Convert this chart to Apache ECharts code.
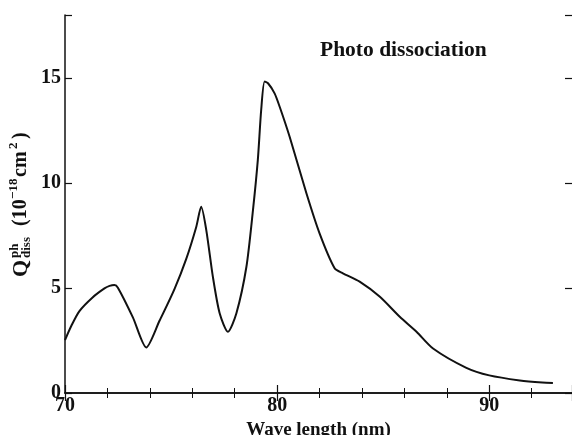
<!DOCTYPE html>
<html>
<head>
<meta charset="utf-8">
<script src="https://cdn.jsdelivr.net/npm/echarts@6/dist/echarts.min.js"></script>
<style>
  html, body { margin: 0; padding: 0; background: #fff; }
  #chart { width: 572px; height: 435px; }
</style>
</head>
<body>
<div id="chart"></div>
<script>
// Photodissociation cross section versus wavelength
const wavelength = [
  70.0, 70.3, 70.68, 71.3, 71.86, 72.1, 72.33, 72.5, 73.2, 73.83,
  74.46, 75.16, 75.72, 76.19, 76.42, 76.66, 76.97, 77.29, 77.68, 78.08,
  78.55, 78.86, 79.09, 79.25, 79.41, 79.57, 79.88, 80.12, 80.59, 81.38,
  82.0, 82.71, 83.1, 83.89, 84.83, 85.78, 86.57, 87.35, 88.92, 90.0,
  91.44, 92.5, 93.0
];
const crossSection = [
  2.52, 3.2, 3.9, 4.55, 4.98, 5.1, 5.14, 5.0, 3.6, 2.17,
  3.45, 4.95, 6.4, 7.92, 8.87, 7.76, 5.54, 3.8, 2.92, 3.8,
  6.0, 8.7, 11.1, 13.5, 14.83, 14.75, 14.27, 13.63, 12.2, 9.51,
  7.6, 5.94, 5.7, 5.3, 4.59, 3.63, 2.92, 2.12, 1.2, 0.84,
  0.6, 0.5, 0.48
];
const xTickLabels = [70, 80, 90];
const yTickLabels = [0, 5, 10, 15];

const serif = '"Liberation Serif", "DejaVu Serif", serif';
const ink = '#111';

const chart = echarts.init(document.getElementById('chart'));

const labelFont = { fontFamily: serif, fontWeight: 'bold', fontSize: 20, color: ink };

chart.setOption({
  animation: false,
  grid: { left: 65, right: 0, top: 15, bottom: 42, outerBoundsMode: 'none', containLabel: false },
  xAxis: [
    {
      type: 'value', position: 'bottom', min: 70, max: 93.9, interval: 10,
      axisLine: { lineStyle: { color: ink, width: 1.5 } },
      axisTick: { inside: true, length: 8, lineStyle: { color: ink, width: 1.2 } },
      minorTick: { show: true, splitNumber: 5, length: 5, lineStyle: { color: ink, width: 1 } },
      splitLine: { show: false },
      axisLabel: Object.assign({
        margin: 3,
        formatter: v => (xTickLabels.includes(v) ? String(v) : '')
      }, labelFont),
      name: 'Wave length (nm)',
      nameLocation: 'middle',
      nameGap: 25,
      nameTextStyle: { fontFamily: serif, fontWeight: 'bold', fontSize: 19, color: ink }
    },
    {
      type: 'value', position: 'top', min: 70, max: 93.9, interval: 10,
      axisLine: { lineStyle: { color: ink, width: 1.5 } },
      axisTick: { inside: true, length: 8, lineStyle: { color: ink, width: 1.2 } },
      minorTick: { show: true, splitNumber: 5, length: 5, lineStyle: { color: ink, width: 1 } },
      splitLine: { show: false },
      axisLabel: { show: false }
    }
  ],
  yAxis: [
    {
      type: 'value', position: 'left', min: 0, max: 18, interval: 5,
      axisLine: { show: true, lineStyle: { color: ink, width: 1.5 } },
      axisTick: { inside: true, length: 7, lineStyle: { color: ink, width: 1.2 } },
      splitLine: { show: false },
      axisLabel: Object.assign({
        margin: 4,
        formatter: v => (yTickLabels.includes(v) ? String(v) : '')
      }, labelFont)
    },
    {
      type: 'value', position: 'right', min: 0, max: 18, interval: 5,
      axisLine: { show: false },
      axisTick: { show: true, inside: true, length: 7, lineStyle: { color: ink, width: 1.2 } },
      splitLine: { show: false },
      axisLabel: { show: false }
    }
  ],
  series: [
    {
      type: 'line',
      data: wavelength.map((w, i) => [w, crossSection[i]]),
      smooth: 0.25,
      showSymbol: false,
      lineStyle: { color: ink, width: 2 }
    }
  ],
  graphic: [
    {
      type: 'text', left: 320, top: 39,
      style: { text: 'Photo dissociation', font: 'bold 21.5px ' + serif, fill: ink }
    },
    {
      // rotated y-axis title: Q^ph_diss (10^-18 cm^2)
      type: 'group', x: 21, y: 277, rotation: Math.PI / 2,
      children: [
        { type: 'text', x: 0, y: 0, style: { text: 'Q', font: 'bold 22px ' + serif, fill: ink, textVerticalAlign: 'middle' } },
        { type: 'text', x: 19, y: -6, style: { text: 'ph', font: 'bold 13px ' + serif, fill: ink, textVerticalAlign: 'middle' } },
        { type: 'text', x: 19, y: 6, style: { text: 'diss', font: 'bold 13px ' + serif, fill: ink, textVerticalAlign: 'middle' } },
        { type: 'text', x: 51, y: 0, style: { text: '(10', font: 'bold 20px ' + serif, fill: ink, textVerticalAlign: 'middle' } },
        { type: 'text', x: 78, y: -7, style: { text: '\u221218', font: 'bold 13px ' + serif, fill: ink, textVerticalAlign: 'middle' } },
        { type: 'text', x: 100, y: 0, style: { text: 'cm', font: 'bold 20px ' + serif, fill: ink, textVerticalAlign: 'middle' } },
        { type: 'text', x: 128, y: -7, style: { text: '2', font: 'bold 13px ' + serif, fill: ink, textVerticalAlign: 'middle' } },
        { type: 'text', x: 138, y: 0, style: { text: ')', font: 'bold 20px ' + serif, fill: ink, textVerticalAlign: 'middle' } }
      ]
    }
  ]
});
</script>
</body>
</html>
